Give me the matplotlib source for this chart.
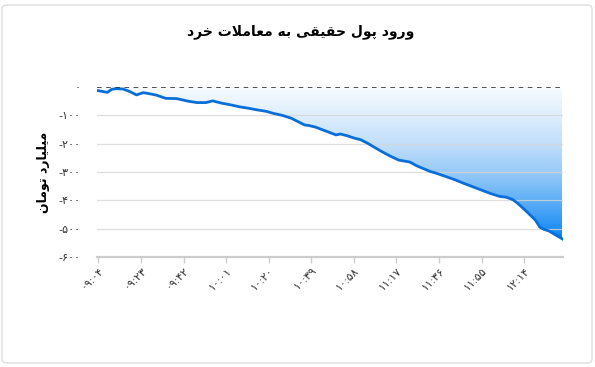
import numpy as np
import matplotlib.pyplot as plt
from matplotlib.colors import LinearSegmentedColormap
from matplotlib.patches import FancyBboxPatch

# data (time, billion toman)
times = ["09:04", "09:06", "09:08", "09:10", "09:12", "09:15", "09:18", "09:21", "09:24",
         "09:27", "09:30", "09:34", "09:39", "09:44", "09:48", "09:52", "09:55", "09:59",
         "10:03", "10:07", "10:11", "10:15", "10:19", "10:22", "10:26", "10:30", "10:33",
         "10:36", "10:38", "10:41", "10:44", "10:47", "10:50", "10:52", "10:55", "10:58",
         "11:01", "11:04", "11:07", "11:10", "11:14", "11:18", "11:21", "11:23", "11:26",
         "11:29", "11:32", "11:35", "11:39", "11:43", "11:47", "11:51", "11:55", "11:59",
         "12:03", "12:06", "12:09", "12:11", "12:15", "12:19", "12:21", "12:23", "12:25",
         "12:28", "12:31"]
values = [-13, -16, -19, -8, -6, -7, -16, -28, -20,
          -24, -29, -40, -41, -50, -55, -55, -49, -57,
          -63, -70, -75, -81, -86, -93, -100, -110, -122,
          -134, -136, -142, -151, -160, -169, -166, -172, -180,
          -186, -198, -212, -226, -243, -258, -262, -265, -278,
          -288, -298, -305, -316, -327, -340, -352, -364, -376,
          -386, -389, -398, -410, -439, -470, -495, -503, -508,
          -522, -536]
tick_times = ["09:04", "09:23", "09:42", "10:01", "10:20", "10:39", "10:58",
              "11:17", "11:36", "11:55", "12:14"]
y_ticks = [0, -100, -200, -300, -400, -500, -600]

title = "ورود پول حقیقی به معاملات خرد"
ylabel = "میلیارد تومان"

FORMS = {
    'ا': ('\uFE8D', '\uFE8E', None, None),
    'ب': ('\uFE8F', '\uFE90', '\uFE91', '\uFE92'),
    'پ': ('\uFB56', '\uFB57', '\uFB58', '\uFB59'),
    'ت': ('\uFE95', '\uFE96', '\uFE97', '\uFE98'),
    'ح': ('\uFEA1', '\uFEA2', '\uFEA3', '\uFEA4'),
    'خ': ('\uFEA5', '\uFEA6', '\uFEA7', '\uFEA8'),
    'د': ('\uFEA9', '\uFEAA', None, None),
    'ر': ('\uFEAD', '\uFEAE', None, None),
    'ع': ('\uFEC9', '\uFECA', '\uFECB', '\uFECC'),
    'ق': ('\uFED5', '\uFED6', '\uFED7', '\uFED8'),
    'ل': ('\uFEDD', '\uFEDE', '\uFEDF', '\uFEE0'),
    'م': ('\uFEE1', '\uFEE2', '\uFEE3', '\uFEE4'),
    'ن': ('\uFEE5', '\uFEE6', '\uFEE7', '\uFEE8'),
    'ه': ('\uFEE9', '\uFEEA', '\uFEEB', '\uFEEC'),
    'و': ('\uFEED', '\uFEEE', None, None),
    'ی': ('\uFBFC', '\uFBFD', '\uFBFE', '\uFBFF'),
}


def shape(text):
    # simple arabic/persian shaping + visual (reversed) order
    out = []
    chars = list(text)
    i = 0
    while i < len(chars):
        c = chars[i]
        if c not in FORMS:
            out.append(c)
            i += 1
            continue
        prev = chars[i - 1] if i > 0 else None
        join_prev = prev in FORMS and FORMS[prev][2] is not None
        if c == 'ل' and i + 1 < len(chars) and chars[i + 1] == 'ا':
            out.append('\uFEFC' if join_prev else '\uFEFB')
            i += 2
            continue
        nxt = chars[i + 1] if i + 1 < len(chars) else None
        join_next = FORMS[c][2] is not None and nxt in FORMS
        iso, fin, ini, med = FORMS[c]
        if join_prev and join_next:
            out.append(med)
        elif join_prev:
            out.append(fin)
        elif join_next:
            out.append(ini)
        else:
            out.append(iso)
        i += 1
    return ''.join(out)[::-1]


def fa(s):
    return str(s).translate(str.maketrans('0123456789', '۰۱۲۳۴۵۶۷۸۹'))


def to_min(t):
    h, m = t.split(':')
    return (int(h) - 9) * 60 + int(m) - 4


x = np.array([to_min(t) for t in times])
y = np.array(values)

plt.rcParams['font.family'] = ['DejaVu Sans']
fig = plt.figure(figsize=(5.95, 3.67), dpi=100)
ax = fig.add_axes([97 / 595, 1 - 257 / 367, (563 - 97) / 595, (257 - 87) / 367])

# gradient fill between the line and zero
cmap = LinearSegmentedColormap.from_list('g', [(0, '#f7fbff'), (0.2, '#dcedfd'), (0.4, '#bddcfa'),
                                               (0.6, '#8dc5f8'), (0.8, '#4ea6f5'), (1, '#0a84f5')])
poly = ax.fill_between(x, y, 0, color='none')
grad = np.linspace(0, 1, 256).reshape(-1, 1)
im = ax.imshow(grad, cmap=cmap, aspect='auto', extent=[x.min(), x.max(), y.min(), 0],
               origin='upper', zorder=1)
im.set_clip_path(poly.get_paths()[0], transform=ax.transData)

ax.plot(x, y, color='#0a6ed8', lw=2.0, zorder=3, solid_joinstyle='round')
ax.axhline(0, color='#222222', lw=1.1, ls=(0, (3, 3)), zorder=4)

for v in y_ticks[1:-1]:
    ax.axhline(v, color='#d6d6d6', lw=0.9, alpha=0.8, zorder=2)

ax.set_xlim(-0.6, 207.3)
ax.set_ylim(-600, 0)
for s in ['top', 'right', 'left']:
    ax.spines[s].set_visible(False)
ax.spines['bottom'].set_color('#cccccc')
ax.spines['bottom'].set_linewidth(1.6)

ax.set_xticks([to_min(t) for t in tick_times])
ax.set_xticklabels([fa(t) for t in tick_times], rotation=45, ha='right',
                   rotation_mode='anchor', fontsize=8, color='#333333')
ax.tick_params(axis='x', length=4, color='#cccccc', width=1, pad=2)
ax.set_yticks(y_ticks)
ax.set_yticklabels([fa(v) for v in y_ticks], fontsize=8, color='#333333')
ax.tick_params(axis='y', length=0, pad=12)

ax.set_ylabel(shape(ylabel), fontsize=9, fontweight='bold', labelpad=6)
fig.text(0.505, 0.913, shape(title), ha='center', va='center', fontsize=10, fontweight='bold')

fig.patches.append(FancyBboxPatch((2 / 595, 4 / 367), 590 / 595, 358 / 367,
                                  boxstyle='round,pad=0,rounding_size=0.01',
                                  transform=fig.transFigure, fill=False,
                                  edgecolor='#dddddd', lw=1))

fig.savefig('out.png', dpi=100)
